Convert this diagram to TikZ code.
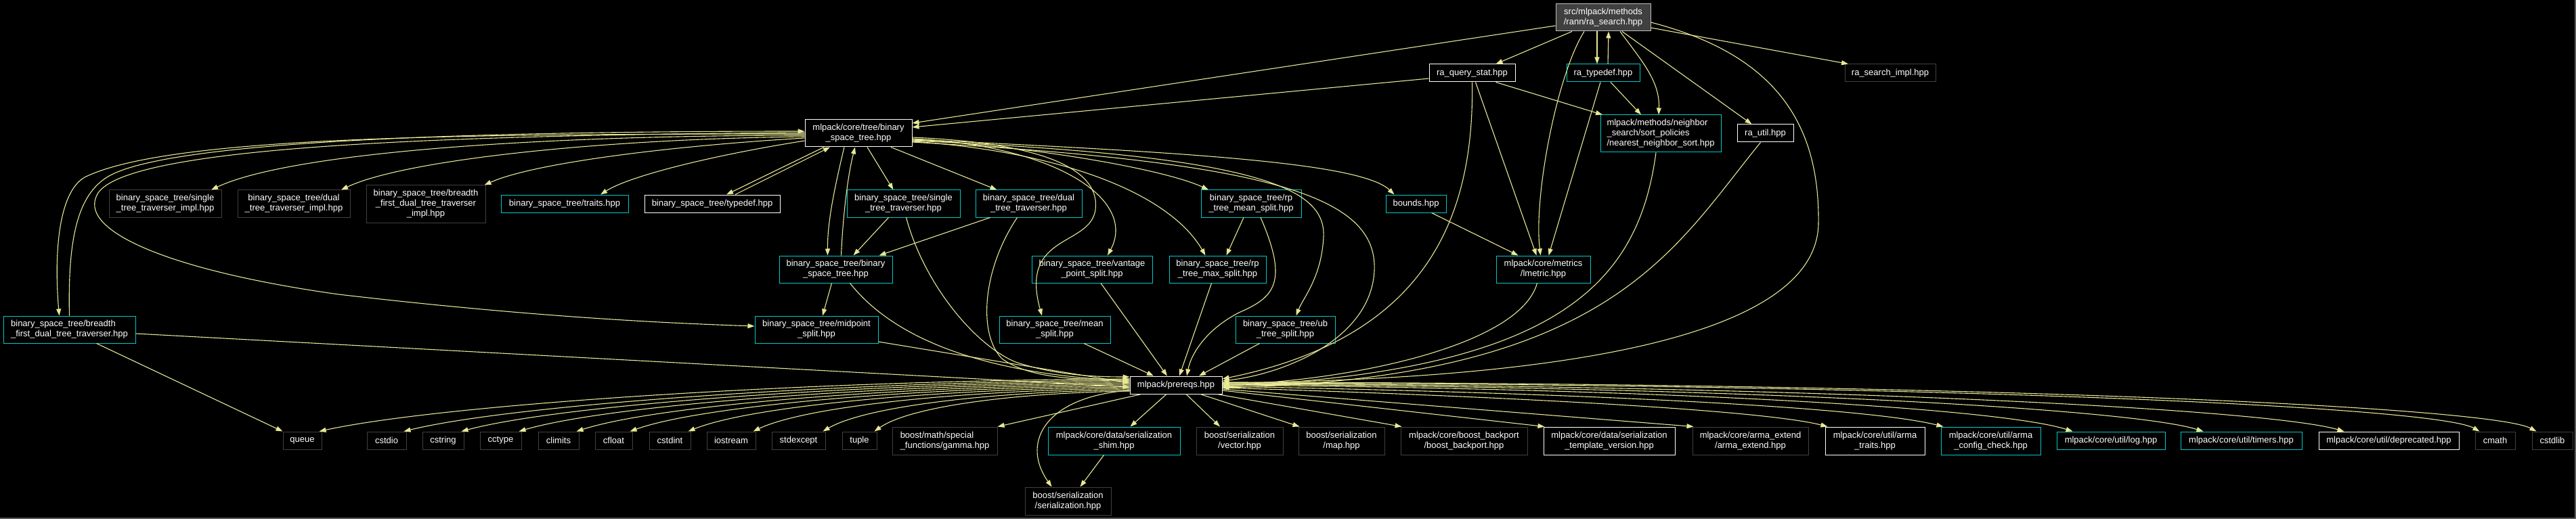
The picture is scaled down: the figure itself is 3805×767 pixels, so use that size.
\documentclass[tikz,border=0pt]{standalone}
\usepackage{fontspec}
\setmainfont{Liberation Sans}
\usetikzlibrary{arrows.meta}
\definecolor{edgec}{RGB}{232,232,150}
\definecolor{cyanb}{RGB}{0,200,200}
\definecolor{darkb}{RGB}{64,64,64}
\definecolor{rootfill}{RGB}{64,64,64}
\definecolor{rootb}{RGB}{191,191,191}
\definecolor{framec}{RGB}{90,90,90}
\newcommand{\mkbox}[7]{\node[#1, minimum width={(#5)-(#3)}, minimum height={(#6)-(#4)}] (#2) at ({((#3)+(#5))/2},{((#4)+(#6))/2}) {#7};}
\begin{document}
\begin{tikzpicture}[x=1pt,y=-1pt,
  bx/.style={draw, rectangle, line width=1pt, inner sep=0pt, text=white, fill=black, font=\fontsize{13}{15}\selectfont, align=center},
  doc/.style={bx, draw=white},
  cy/.style={bx, draw=cyanb},
  und/.style={bx, draw=darkb},
  rootn/.style={bx, draw=rootb, fill=rootfill},
  arr/.style={draw=edgec, line width=1.1pt, -{Triangle[length=10pt,width=7pt]}}]
\useasboundingbox (0,0) rectangle (3805,767);
\fill[black] (0,0) rectangle (3805,767);
\draw[line width=2pt, framec] (0,766) -- (3804,766) -- (3804,0);

% nodes
\mkbox{rootn}{R}{2298}{6}{2438}{46}{src/mlpack/methods\\/rann/ra\_search.hpp}
\mkbox{doc}{QS}{2111}{95}{2238}{121}{ra\_query\_stat.hpp}
\mkbox{cy}{TD}{2314}{95}{2422}{121}{ra\_typedef.hpp}
\mkbox{und}{RSI}{2725}{95}{2859}{121}{ra\_search\_impl.hpp}
\mkbox{cy,align=left}{NNS}{2364}{170}{2542}{225}{mlpack/methods/neighbor\\\_search/sort\_policies\\/nearest\_neighbor\_sort.hpp}
\mkbox{doc}{RU}{2566}{184}{2649}{210}{ra\_util.hpp}
\mkbox{cy}{BOUNDS}{2047}{288}{2136}{314}{bounds.hpp}
\mkbox{cy}{LM}{2210}{378}{2349}{418}{mlpack/core/metrics\\/lmetric.hpp}
\mkbox{doc}{BST}{1189}{177}{1347}{217}{mlpack/core/tree/binary\\\_space\_tree.hpp}
\mkbox{und}{STI}{161}{281}{327}{321}{binary\_space\_tree/single\\\_tree\_traverser\_impl.hpp}
\mkbox{und}{DTI}{351}{281}{517}{321}{binary\_space\_tree/dual\\\_tree\_traverser\_impl.hpp}
\mkbox{und}{BFI}{541}{274}{717}{329}{binary\_space\_tree/breadth\\\_first\_dual\_tree\_traverser\\\_impl.hpp}
\mkbox{cy}{TRAITS}{740}{288}{928}{314}{binary\_space\_tree/traits.hpp}
\mkbox{doc}{TYPEDEF}{952}{288}{1152}{314}{binary\_space\_tree/typedef.hpp}
\mkbox{cy}{STT}{1251}{281}{1418}{321}{binary\_space\_tree/single\\\_tree\_traverser.hpp}
\mkbox{cy}{DTT}{1441}{281}{1598}{321}{binary\_space\_tree/dual\\\_tree\_traverser.hpp}
\mkbox{cy}{RPMEAN}{1774}{281}{1922}{321}{binary\_space\_tree/rp\\\_tree\_mean\_split.hpp}
\mkbox{cy}{BB}{1151}{378}{1318}{418}{binary\_space\_tree/binary\\\_space\_tree.hpp}
\mkbox{cy}{VP}{1524}{378}{1702}{418}{binary\_space\_tree/vantage\\\_point\_split.hpp}
\mkbox{cy}{RPMAX}{1727}{378}{1870}{418}{binary\_space\_tree/rp\\\_tree\_max\_split.hpp}
\mkbox{cy}{MID}{1115}{467}{1297}{507}{binary\_space\_tree/midpoint\\\_split.hpp}
\mkbox{cy}{MEAN}{1476}{467}{1640}{507}{binary\_space\_tree/mean\\\_split.hpp}
\mkbox{cy}{UB}{1825}{467}{1972}{507}{binary\_space\_tree/ub\\\_tree\_split.hpp}
\mkbox{cy,align=left}{BFDTT}{5}{467}{200}{507}{binary\_space\_tree/breadth\\\_first\_dual\_tree\_traverser.hpp}
\mkbox{doc}{PR}{1669}{556}{1805}{582}{mlpack/prereqs.hpp}

\mkbox{und}{QUEUE}{418}{638}{475}{664}{queue}
\mkbox{und}{CSTDIO}{542}{638}{600}{664}{cstdio}
\mkbox{und}{CSTRING}{624}{638}{685}{664}{cstring}
\mkbox{und}{CCTYPE}{709}{638}{770}{664}{cctype}
\mkbox{und}{CLIMITS}{795}{638}{855}{664}{climits}
\mkbox{und}{CFLOAT}{879}{638}{934}{664}{cfloat}
\mkbox{und}{CSTDINT}{959}{638}{1020}{664}{cstdint}
\mkbox{und}{IOSTREAM}{1044}{638}{1116}{664}{iostream}
\mkbox{und}{STDEXCEPT}{1140}{638}{1219}{664}{stdexcept}
\mkbox{und}{TUPLE}{1244}{638}{1295}{664}{tuple}
\mkbox{und,align=left}{GAMMA}{1318}{631}{1473}{672}{boost/math/special\\\_functions/gamma.hpp}
\mkbox{cy}{SHIM}{1548}{631}{1743}{672}{mlpack/core/data/serialization\\\_shim.hpp}
\mkbox{und}{VEC}{1767}{631}{1895}{672}{boost/serialization\\/vector.hpp}
\mkbox{und}{MAP}{1918}{631}{2045}{672}{boost/serialization\\/map.hpp}
\mkbox{und}{BACKPORT}{2069}{631}{2256}{672}{mlpack/core/boost\_backport\\/boost\_backport.hpp}
\mkbox{doc}{TV}{2280}{631}{2474}{672}{mlpack/core/data/serialization\\\_template\_version.hpp}
\mkbox{und}{AE}{2500}{631}{2671}{672}{mlpack/core/arma\_extend\\/arma\_extend.hpp}
\mkbox{doc}{AT}{2696}{631}{2843}{672}{mlpack/core/util/arma\\\_traits.hpp}
\mkbox{cy}{ACC}{2867}{631}{3014}{672}{mlpack/core/util/arma\\\_config\_check.hpp}
\mkbox{cy}{LOG}{3038}{638}{3198}{664}{mlpack/core/util/log.hpp}
\mkbox{cy}{TIMERS}{3221}{638}{3400}{664}{mlpack/core/util/timers.hpp}
\mkbox{doc}{DEP}{3425}{638}{3632}{664}{mlpack/core/util/deprecated.hpp}
\mkbox{und}{CMATH}{3656}{638}{3715}{664}{cmath}
\mkbox{und}{CSTDLIB}{3740}{638}{3800}{664}{cstdlib}
\mkbox{und}{SER}{1514}{720}{1641}{761}{boost/serialization\\/serialization.hpp}

% root edges
\draw[arr] ([yshift=-12pt]R.west) -- ([yshift=15pt]BST.east);
\draw[arr] ([xshift=-46pt]R.south) -- ([xshift=35pt]QS.north);
\draw[arr] ([xshift=-9pt]R.south) -- ([xshift=-9pt]TD.north);
\draw[arr] ([xshift=7pt]TD.north) -- ([xshift=8pt]R.south);
\draw[arr] ([xshift=-28pt]R.south) .. controls (2300,110) and (2265,290) .. ([xshift=-4pt]LM.north);
\draw[arr] ([xshift=25pt]R.south) .. controls (2425,90) and (2452,120) .. ([xshift=-3pt]NNS.north);
\draw[arr] ([xshift=28pt]R.south) -- ([xshift=-20pt]RU.north);
\draw[arr] ([yshift=-15pt]R.east) -- ([xshift=-62pt]RSI.north);
\draw[arr] ([yshift=-7pt]R.east) .. controls (2620,80) and (2688,180) .. (2686,330) .. controls (2684,500) and (2300,560) .. ([yshift=3pt]PR.east);

% ra_query_stat, ra_typedef
\draw[arr] ([yshift=-8pt]QS.west) -- ([yshift=9pt]BST.east);
\draw[arr] ([xshift=35pt]QS.south) -- ([xshift=-86pt]NNS.north);
\draw[arr] ([xshift=5pt]QS.south) -- ([xshift=-10pt]LM.north);
\draw[arr] (QS.south) .. controls (2178,330) and (2100,500) .. ([yshift=9pt]PR.east);
\draw[arr] ([xshift=11pt]TD.south) -- ([xshift=-29pt]NNS.north);
\draw[arr] ([xshift=-4pt]TD.south) -- ([xshift=8pt]LM.north);

% into prereqs from right
\draw[arr] ([xshift=-7pt]NNS.south) .. controls (2420,420) and (2300,548) .. ([yshift=-2pt]PR.east);
\draw[arr] ([xshift=-7pt]RU.south) .. controls (2470,370) and (2380,558) .. ([yshift=-4pt]PR.east);
\draw[arr] ([xshift=-9pt]LM.south) .. controls (2245,510) and (2000,562) .. (PR.east);
\draw[arr] ([xshift=23pt]BOUNDS.south) -- ([xshift=-37pt]LM.north);

% binary_space_tree.hpp right side
\draw[arr] ([yshift=-9pt]BST.east) .. controls (1750,225) and (2010,240) .. ([xshift=-32pt]BOUNDS.north);
\draw[arr] ([yshift=-13pt]BST.east) .. controls (1880,240) and (2035,290) .. (2030,400) .. controls (2025,500) and (1900,552) .. ([yshift=6pt]PR.east);
\draw[arr] ([yshift=-11pt]BST.east) .. controls (1870,230) and (1958,280) .. (1955,350) .. controls (1952,410) and (1925,440) .. ([xshift=16pt]UB.north);
\draw[arr] ([yshift=-10pt]BST.east) .. controls (1520,215) and (1720,250) .. ([xshift=-63pt]RPMEAN.north);
\draw[arr] ([yshift=-12pt]BST.east) .. controls (1580,225) and (1730,290) .. ([xshift=-18pt]RPMAX.north);
\draw[arr] ([yshift=-8pt]BST.east) .. controls (1560,215) and (1680,295) .. ([xshift=23pt]VP.north);
\draw[arr] ([yshift=-6pt]BST.east) .. controls (1555,212) and (1625,255) .. (1618,310) .. controls (1610,365) and (1505,345) .. ([xshift=-19pt]MEAN.north);

% binary_space_tree.hpp bottom
\draw[arr] ([xshift=13pt]BST.south) -- ([xshift=-15pt]STT.north);
\draw[arr] ([xshift=48pt]BST.south) -- ([xshift=-47pt]DTT.north);
\draw[arr] ([xshift=-21pt]BST.south) .. controls (1232,280) and (1222,330) .. ([xshift=-12pt]BB.north);
\draw[arr] ([xshift=8pt]BB.north) .. controls (1245,320) and (1252,260) .. ([xshift=-5pt]BST.south);
\draw[arr] ([xshift=-51pt]BST.south) -- ([xshift=21pt]TYPEDEF.north);
\draw[arr] ([xshift=34pt]TYPEDEF.north) -- ([xshift=-42pt]BST.south);

% binary_space_tree.hpp left side
\draw[arr] ([yshift=-11pt]BST.west) .. controls (1050,230) and (930,260) .. ([xshift=53pt]TRAITS.north);
\draw[arr] ([yshift=-7pt]BST.west) .. controls (1000,215) and (790,240) .. ([xshift=-2pt]BFI.north east);
\draw[arr] ([yshift=-5pt]BST.west) .. controls (900,205) and (600,235) .. ([xshift=70pt]DTI.north);
\draw[arr] ([yshift=-3pt]BST.west) .. controls (800,200) and (430,225) .. ([xshift=68pt]STI.north);
\draw[arr] ([yshift=-1pt]BST.west) .. controls (700,198) and (250,200) .. (125,262) .. controls (85,285) and (80,380) .. ([xshift=-15pt]BFDTT.north);
\draw[arr] (BFDTT.north) .. controls (100,350) and (115,283) .. (165,258) .. controls (265,208) and (700,194) .. ([yshift=3pt]BST.west);
\draw[arr] ([yshift=1pt]BST.west) .. controls (600,200) and (190,220) .. (145,285) .. controls (110,340) and (250,400) .. (500,435) .. controls (800,470) and (1000,478) .. ([yshift=5pt]MID.west);

% middle layer
\draw[arr] ([xshift=-22pt]STT.south) -- ([xshift=26pt]BB.north);
\draw[arr] ([xshift=-57pt]DTT.south) -- ([xshift=64pt]BB.north);
\draw[arr] ([xshift=4pt]STT.south) .. controls (1365,420) and (1440,510) .. (1500,535) .. controls (1560,555) and (1620,557) .. ([yshift=12pt]PR.west);
\draw[arr] ([xshift=-17pt]DTT.south) .. controls (1450,400) and (1445,495) .. (1480,530) .. controls (1520,560) and (1600,562) .. ([yshift=9pt]PR.west);
\draw[arr] ([xshift=21pt]BB.south) .. controls (1320,500) and (1450,552) .. ([yshift=6pt]PR.west);
\draw[arr] ([yshift=-18pt]MID.east) -- ([yshift=3pt]PR.west);
\draw[arr] ([yshift=-6pt]BFDTT.east) -- ([yshift=-3pt]PR.west);
\draw[arr] ([xshift=40pt]BFDTT.south) -- (QUEUE.north west);
\draw[arr] ([xshift=43pt]MEAN.south) -- ([xshift=-33pt]PR.north);
\draw[arr] ([xshift=13pt]VP.south) -- ([xshift=-13pt]PR.north);
\draw[arr] ([xshift=-9pt]RPMAX.south) -- ([xshift=5pt]PR.north);
\draw[arr] ([xshift=14pt]RPMEAN.south) .. controls (1905,420) and (1880,440) .. (1830,462) .. controls (1785,485) and (1760,520) .. ([xshift=16pt]PR.north);
\draw[arr] ([xshift=-38pt]UB.south) -- ([xshift=34pt]PR.north);
\draw[arr] ([xshift=-11pt]RPMEAN.south) -- ([xshift=13pt]RPMAX.north);
\draw[arr] ([xshift=-6pt]BB.south) -- ([xshift=9pt]MID.north);

% prereqs to the left of the bottom row
\draw[arr] ([yshift=9pt]PR.west) .. controls (1190,562) and (651,598) .. ([xshift=-4pt]QUEUE.north east);
\draw[arr] ([yshift=7pt]PR.west) .. controls (1240,564) and (757,598) .. ([xshift=-4pt]CSTDIO.north east);
\draw[arr] ([yshift=5pt]PR.west) .. controls (1274,566) and (829,598) .. ([xshift=-4pt]CSTRING.north east);
\draw[arr] ([yshift=3pt]PR.west) .. controls (1308,568) and (901,598) .. ([xshift=-4pt]CCTYPE.north east);
\draw[arr] ([yshift=1pt]PR.west) .. controls (1342,570) and (974,598) .. ([xshift=-4pt]CLIMITS.north east);
\draw[arr] ([yshift=-1pt]PR.west) .. controls (1373,572) and (1041,598) .. ([xshift=-4pt]CFLOAT.north east);
\draw[arr] ([yshift=-3pt]PR.west) .. controls (1408,574) and (1114,598) .. ([xshift=-4pt]CSTDINT.north east);
\draw[arr] ([yshift=-5pt]PR.west) .. controls (1446,576) and (1196,598) .. ([xshift=-4pt]IOSTREAM.north east);
\draw[arr] ([yshift=-7pt]PR.west) .. controls (1487,578) and (1283,598) .. ([xshift=-4pt]STDEXCEPT.north east);
\draw[arr] ([yshift=-9pt]PR.west) .. controls (1518,580) and (1348,598) .. ([xshift=-4pt]TUPLE.north east);
\draw[arr] ([xshift=-51pt]PR.south) -- (GAMMA.north east);
\draw[arr] ([yshift=-8pt]PR.west) .. controls (1550,585) and (1505,650) .. ([xshift=-24pt]SER.north);
\draw[arr] ([xshift=-15pt]SHIM.south) -- ([xshift=18pt]SER.north);
\draw[arr] ([xshift=-14pt]PR.south) -- ([xshift=24pt]SHIM.north);
\draw[arr] ([xshift=15pt]PR.south) -- ([xshift=-29pt]VEC.north);
\draw[arr] ([xshift=36pt]PR.south) -- ([xshift=2pt]MAP.north west);
\draw[arr] ([xshift=-8pt]PR.south east) -- ([xshift=2pt]BACKPORT.north west);
\draw[arr] ([yshift=-8pt]PR.east) -- ([xshift=2pt]TV.north west);
\draw[arr] ([yshift=-6pt]PR.east) -- ([xshift=2pt]AE.north west);
\draw[arr] ([yshift=-4pt]PR.east) .. controls (2200,585) and (2600,605) .. ([xshift=4pt]AT.north west);
\draw[arr] ([yshift=-2pt]PR.east) .. controls (2300,580) and (2750,600) .. ([xshift=4pt]ACC.north west);
\draw[arr] (PR.east) .. controls (2500,575) and (2960,605) .. ([xshift=24pt]LOG.north west);
\draw[arr] ([yshift=1pt]PR.east) .. controls (2600,572) and (3150,605) .. ([xshift=34pt]TIMERS.north west);
\draw[arr] ([yshift=2pt]PR.east) .. controls (2700,570) and (3350,605) .. ([xshift=38pt]DEP.north west);
\draw[arr] ([yshift=3pt]PR.east) .. controls (2900,568) and (3600,602) .. ([xshift=7pt]CMATH.north west);
\draw[arr] ([yshift=4pt]PR.east) .. controls (2950,566) and (3680,602) .. ([xshift=7pt]CSTDLIB.north west);
\end{tikzpicture}
\end{document}
